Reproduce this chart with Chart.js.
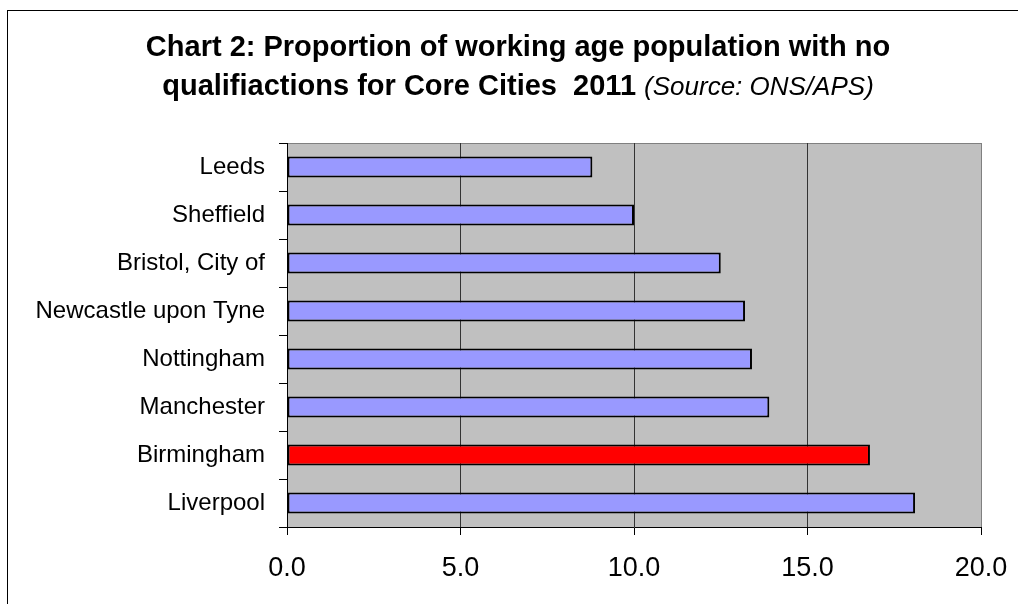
<!DOCTYPE html>
<html>
<head>
<meta charset="utf-8">
<script src="https://cdn.jsdelivr.net/npm/chart.js@4.4.1/dist/chart.umd.min.js"></script>
<style>
  html, body { margin: 0; padding: 0; background: #ffffff; overflow: hidden; }
  #wrap { position: absolute; left: 0; top: 0; width: 1018px; height: 604px; }
  #frame { position: absolute; left: 7px; top: 10px; width: 1200px; height: 800px;
           border-top: 1px solid #000; border-left: 1px solid #000; box-sizing: border-box; }
  canvas { position: absolute; left: 0; top: 0; }
</style>
</head>
<body>
<div id="wrap">
  <div id="frame"></div>
  <canvas id="c" width="1018" height="604"></canvas>
</div>
<script>
// ---- Data ----
const categories = ['Leeds', 'Sheffield', 'Bristol, City of', 'Newcastle upon Tyne',
                    'Nottingham', 'Manchester', 'Birmingham', 'Liverpool'];
const values = [8.8, 10.0, 12.5, 13.2, 13.4, 13.9, 16.8, 18.1];
const highlightCity = 'Birmingham';
const xTickMin = 0;
const xTickMax = 20;
const xTickStep = 5;
const titleLine1 = 'Chart 2: Proportion of working age population with no';
const titleLine2Bold = 'qualifiactions for Core Cities  2011 ';
const titleLine2Italic = '(Source: ONS/APS)';

const FONT = '"Liberation Sans", Arial, sans-serif';

const plotDecor = {
  id: 'plotDecor',
  beforeDraw(chart) {
    const { ctx, chartArea: a } = chart;
    ctx.save();
    ctx.fillStyle = '#C0C0C0';
    ctx.fillRect(a.left, a.top, a.right - a.left, a.bottom - a.top);
    ctx.strokeStyle = '#808080';
    ctx.lineWidth = 1;
    ctx.beginPath();
    ctx.moveTo(a.left, a.top + 0.5);
    ctx.lineTo(a.right, a.top + 0.5);
    ctx.stroke();
    ctx.restore();
  },
  afterDraw(chart) {
    const { ctx } = chart;
    ctx.save();
    ctx.fillStyle = '#000';
    ctx.textBaseline = 'alphabetic';
    const cx = 518;
    ctx.font = 'bold 29px ' + FONT;
    const w1 = ctx.measureText(titleLine1).width;
    ctx.fillText(titleLine1, cx - w1 / 2, 56);
    const wb = ctx.measureText(titleLine2Bold).width;
    ctx.font = 'italic 26px ' + FONT;
    const wi = ctx.measureText(titleLine2Italic).width;
    const x0 = cx - (wb + wi) / 2;
    ctx.font = 'bold 29px ' + FONT;
    ctx.fillText(titleLine2Bold, x0, 95);
    ctx.font = 'italic 26px ' + FONT;
    ctx.fillText(titleLine2Italic, x0 + wb, 95);
    ctx.restore();
  }
};

new Chart(document.getElementById('c'), {
  type: 'bar',
  data: {
    labels: categories,
    datasets: [{
      data: values,
      backgroundColor: categories.map(c => c === highlightCity ? '#FF0000' : '#9999FF'),
      borderColor: '#000000',
      borderWidth: 2,
      borderSkipped: false,
      categoryPercentage: 1.0,
      barPercentage: 0.44
    }]
  },
  options: {
    indexAxis: 'y',
    responsive: false,
    animation: false,
    devicePixelRatio: 1,
    layout: { padding: { top: 143, right: 37, bottom: 0, left: 0 } },
    plugins: { legend: { display: false }, tooltip: { enabled: false }, title: { display: false } },
    scales: {
      x: {
        min: xTickMin, max: xTickMax,
        afterFit(scale) {
          scale.height = 604 - 527;
          scale.paddingLeft = 0;
          scale.paddingRight = 0;
        },
        ticks: {
          stepSize: xTickStep,
          callback: v => Number(v).toFixed(1),
          font: { family: FONT, size: 27 },
          color: '#000',
          padding: 17,
          maxRotation: 0
        },
        grid: {
          color: ctx => (ctx.tick && ctx.tick.value === xTickMax) ? '#808080' : '#333333',
          lineWidth: 1,
          drawTicks: true,
          tickLength: 8,
          tickColor: '#000'
        },
        border: { display: true, color: '#000', width: 1 }
      },
      y: {
        afterFit(scale) {
          scale.width = 287;
          scale.paddingTop = 0;
          scale.paddingBottom = 0;
        },
        ticks: {
          font: { family: FONT, size: 24 },
          color: '#000',
          padding: 14
        },
        grid: {
          offset: true,
          drawOnChartArea: false,
          drawTicks: true,
          tickLength: 8,
          tickColor: '#000',
          color: '#000'
        },
        border: { display: true, color: '#000', width: 1 }
      }
    }
  },
  plugins: [plotDecor]
});
</script>
</body>
</html>
